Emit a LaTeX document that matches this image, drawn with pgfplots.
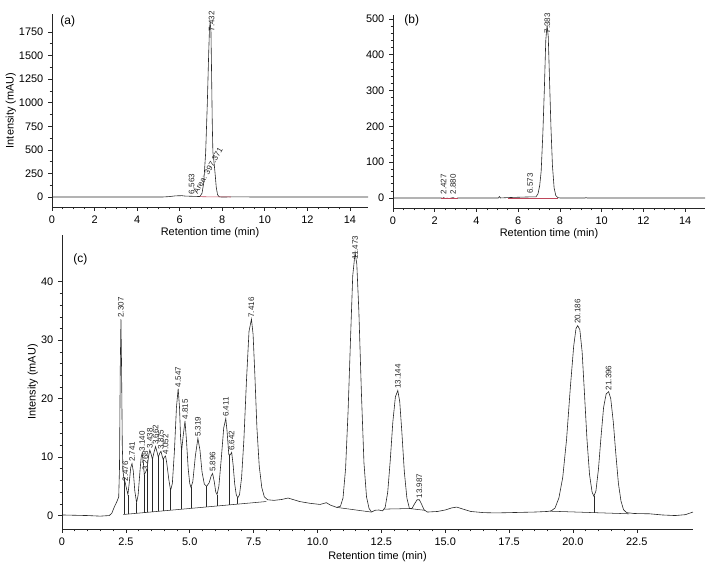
\documentclass[border=0pt]{standalone}
\usepackage{fontspec}
\setmainfont{Liberation Sans}
\usepackage{pgfplots}
\pgfplotsset{compat=1.18}
\definecolor{trace}{RGB}{40,40,40}
\definecolor{intbase}{RGB}{190,70,90}
\pgfplotsset{
  chrom/.style={
    scale only axis, axis lines=left, axis line style={-, black!85, line width=0.5pt},
    tick align=outside, major tick length=3pt, minor tick length=1.7pt,
    every tick/.style={black!85, line width=0.45pt},
    tick label style={font=\fontsize{8.2}{9}\selectfont},
    label style={font=\fontsize{8.2}{9}\selectfont},
    /pgf/number format/assume math mode=true,
    /pgf/number format/1000 sep={},
    xlabel={Retention time (min)}, clip=false,
    xlabel shift=-4pt, ylabel shift=-4.5pt,
  },
  tr/.style={trace, line width=0.45pt, mark=none},
  pklab/.style={draw=none, mark=none, nodes near coords, point meta=explicit symbolic,
    nodes near coords style={rotate=90, anchor=west, inner sep=1pt, black!85,
      font=\fontsize{6}{6}\selectfont}},
}
\begin{document}
\begin{tikzpicture}
\path[use as bounding box] (0,0) rectangle (546pt,430.5pt);

% (a)
\begin{axis}[chrom, at={(39pt,275.25pt)}, anchor=south west,
  width=237pt, height=144.75pt,
  xmin=0, xmax=14.85, ymin=-106, ymax=1940,
  xtick={0,2,...,14}, ytick={0,250,...,1750},
  minor x tick num=3, minor y tick num=1,
  ylabel={Intensity (mAU)}]
\addplot[tr] coordinates {(0,0)(5.0,0)(5.2,0)(5.5,4)(5.8,12)(6.1,14)(6.25,10)(6.5,8)(6.8,6)
  (6.95,5)(7.05,40)(7.13,150)(7.22,466)(7.3,1000)(7.36,1500)(7.40,1780)(7.432,1860)
  (7.47,1750)(7.50,1300)(7.53,800)(7.56,480)(7.6,400)(7.66,260)(7.72,100)(7.78,25)
  (7.85,3)(7.95,0)(9.2,2)(9.3,0)(14.85,0)};
\addplot[intbase, line width=0.4pt, mark=none] coordinates {(6.95,3)(8.4,0)};
\addplot[pklab] coordinates {(6.563,14)[6.563] (7.50,1740)[7.432]};
\node[rotate=60, anchor=south west, inner sep=0pt, black!85, font=\fontsize{6}{6}\selectfont]
  at (axis cs:6.85,25) {Area: 397.371};
\node[font=\fontsize{9}{10}\selectfont] at (rel axis cs:0.05,0.96) {(a)};
\end{axis}

% (b)
\begin{axis}[chrom, at={(294.75pt,274.5pt)}, anchor=south west,
  width=234pt, height=144.75pt,
  xmin=0, xmax=14.95, ymin=-28, ymax=511,
  xtick={0,2,...,14}, ytick={0,100,...,500},
  minor x tick num=3, minor y tick num=4]
\addplot[tr] coordinates {(0,0)(2.3,0)(2.4,-1)(2.427,1)(2.5,-1.5)(2.6,-0.5)(2.7,-1.5)(2.88,1)
  (2.95,-1)(3.05,-2)(3.1,0)(5.05,0)(5.1,4)(5.15,0)(5.5,1)(6.0,2)(6.573,3)(6.85,3)
  (6.95,12)(7.03,35)(7.1,75)(7.18,180)(7.25,300)(7.32,440)(7.383,483)(7.44,450)
  (7.5,330)(7.57,195)(7.64,90)(7.72,28)(7.8,7)(7.9,1)(8.0,0)(9.2,0)(9.25,1)(9.3,0)(14.95,0)};
\addplot[intbase, line width=0.4pt, mark=none] coordinates {(2.3,0)(3.1,0)};
\addplot[intbase, line width=0.4pt, mark=none] coordinates {(5.5,0)(7.9,0)};
\addplot[pklab] coordinates {(2.427,6)[2.427] (2.880,6)[2.880] (6.573,8)[6.573] (7.40,455)[7.383]};
\node[font=\fontsize{9}{10}\selectfont] at (rel axis cs:0.06,0.97) {(b)};
\end{axis}

% (c)
\begin{axis}[chrom, at={(46.5pt,33.75pt)}, anchor=south west,
  width=473.25pt, height=220.5pt,
  xmin=0, xmax=24.7, ymin=-2.3, ymax=48,
  xtick={0,2.5,...,22.5}, xticklabels={0,2.5,5.0,7.5,10.0,12.5,15.0,17.5,20.0,22.5},
  ytick={0,10,...,40},
  minor x tick num=4, minor y tick num=4,
  xlabel shift=-2pt,
  ylabel={Intensity (mAU)}]
\addplot[tr] coordinates {(0,0.1)(0.5,0.05)(1.0,0.0)(1.5,-0.1)(1.85,0.0)(1.95,0.4)(2.05,1.5)
  (2.15,2.4)(2.22,3.2)(2.25,8)(2.28,25)(2.307,33.6)(2.33,26)(2.36,12)(2.39,7.5)(2.42,6.5)
  (2.476,5.6)(2.53,4.5)(2.58,3.6)(2.63,5.5)(2.69,8.2)(2.741,8.9)(2.79,7.6)(2.85,4.2)
  (2.92,2.2)(2.98,3.5)(3.05,7.5)(3.10,10.0)(3.14,10.7)(3.19,8.8)(3.22,7.0)(3.268,7.4)
  (3.33,8.0)(3.39,10.2)(3.438,11.2)(3.49,10.5)(3.54,9.6)(3.60,10.8)(3.662,11.8)(3.72,10.9)
  (3.77,10.0)(3.83,10.7)(3.875,11.0)(3.92,10.2)(3.96,9.6)(4.01,10.0)(4.052,10.2)(4.10,9.0)
  (4.18,6.2)(4.25,4.3)(4.32,5.5)(4.40,11)(4.48,18.5)(4.547,21.7)(4.60,18.5)(4.64,13.5)
  (4.68,11.0)(4.74,13.5)(4.815,16.2)(4.87,13)(4.94,8)(5.0,5.5)(5.05,4.8)(5.12,5.8)(5.22,10.2)
  (5.319,13.2)(5.40,11.2)(5.48,7.5)(5.57,5.4)(5.66,5.0)(5.76,5.6)(5.84,6.8)(5.896,7.2)
  (5.96,5.8)(6.02,4.0)(6.07,3.6)(6.14,5.0)(6.24,10)(6.33,15)(6.411,16.6)(6.46,14.5)
  (6.53,10.4)(6.59,10.4)(6.642,10.8)(6.70,8.6)(6.76,5.4)(6.82,3.6)(6.88,3.0)(6.95,3.6)
  (7.03,6.5)(7.12,13)(7.22,23)(7.32,31.5)(7.416,33.6)(7.48,31)(7.55,24)(7.63,15)(7.72,8.5)
  (7.82,4.8)(7.92,3.2)(8.05,2.7)(8.3,2.6)(8.6,2.75)(8.85,3.0)(9.0,2.8)(9.3,2.4)(9.7,2.1)
  (10.1,1.9)(10.35,2.2)(10.5,1.8)(10.75,1.4)(10.9,1.6)(11.0,3)(11.1,8)(11.2,18)(11.3,31)
  (11.38,41)(11.473,45)(11.54,43)(11.62,35)(11.72,21)(11.82,9)(11.92,3.2)(12.02,1.2)
  (12.12,0.6)(12.25,0.9)(12.4,0.95)(12.55,0.8)(12.65,1.4)(12.75,4)(12.85,9.5)(12.95,16)
  (13.05,20.3)(13.144,21.4)(13.22,19.5)(13.3,14.5)(13.4,7.5)(13.5,3)(13.6,1.2)(13.7,1.2)
  (13.8,2.0)(13.9,2.7)(13.987,2.7)(14.07,2.0)(14.17,1.0)(14.3,0.6)(14.7,0.7)(15.0,0.95)
  (15.25,1.3)(15.45,1.45)(15.7,1.1)(16.0,0.7)(16.5,0.5)(17.0,0.45)(17.5,0.5)(18.0,0.55)
  (18.5,0.6)(19.0,0.7)(19.15,0.8)(19.3,1.3)(19.45,3)(19.6,6.5)(19.75,13)(19.9,22)(20.03,29)
  (20.12,32)(20.186,32.5)(20.27,31.8)(20.36,28)(20.45,21)(20.55,13)(20.65,7)(20.75,4)
  (20.82,3.3)(20.9,4.2)(21.0,8)(21.1,13.5)(21.2,18.5)(21.3,20.8)(21.396,21.2)(21.48,20)
  (21.58,16)(21.68,10.5)(21.78,5.5)(21.88,2.5)(21.98,1.0)(22.1,0.5)(22.4,0.35)(23.0,0.3)
  (23.5,0.1)(24.0,0.0)(24.4,0.15)(24.7,0.6)};
% integration baselines
\addplot[tr, line width=0.4pt] coordinates {(2.40,0.18)(8.0,2.4)};
\addplot[tr, line width=0.4pt] coordinates {(10.75,1.4)(12.1,0.6)};
\addplot[tr, line width=0.4pt] coordinates {(12.6,1.1)(13.6,1.2)(14.2,0.9)};
\addplot[tr, line width=0.4pt] coordinates {(19.1,0.75)(22.2,0.3)};
% drop lines
\addplot[tr, line width=0.4pt, unbounded coords=jump] coordinates {
  (2.42,0.19)(2.42,6.5)(2.42,nan) (2.58,0.25)(2.58,3.6)(2.58,nan)
  (2.92,0.39)(2.92,2.2)(2.92,nan) (3.22,0.50)(3.22,7.0)(3.22,nan)
  (3.33,0.55)(3.33,8.0)(3.33,nan) (3.54,0.63)(3.54,9.6)(3.54,nan)
  (3.77,0.72)(3.77,10.0)(3.77,nan) (3.96,0.80)(3.96,9.6)(3.96,nan)
  (4.25,0.91)(4.25,4.3)(4.25,nan) (4.68,1.08)(4.68,11.0)(4.68,nan)
  (5.05,1.23)(5.05,4.8)(5.05,nan) (5.66,1.47)(5.66,5.0)(5.66,nan)
  (6.07,1.63)(6.07,3.6)(6.07,nan) (6.53,1.82)(6.53,10.4)(6.53,nan)
  (6.88,1.95)(6.88,3.0)(6.88,nan) (20.82,0.5)(20.82,3.3)};
\addplot[pklab] coordinates {
  (2.307,33.6)[2.307] (2.476,5.6)[2.476] (2.741,8.9)[2.741] (3.140,10.7)[3.140]
  (3.268,7.4)[3.268] (3.438,11.2)[3.438] (3.662,11.8)[3.662] (3.875,11.0)[3.875]
  (4.052,10.2)[4.052] (4.547,21.7)[4.547] (4.815,16.2)[4.815] (5.319,13.2)[5.319]
  (5.896,7.2)[5.896] (6.411,16.6)[6.411] (6.642,10.8)[6.642] (7.416,33.6)[7.416]
  (11.473,43.5)[11.473] (13.144,21.4)[13.144] (13.987,2.7)[13.987]
  (20.186,32.5)[20.186] (21.396,21.2)[21.396]};
\node[font=\fontsize{9}{10}\selectfont] at (rel axis cs:0.029,0.918) {(c)};
\end{axis}
\end{tikzpicture}
\end{document}
